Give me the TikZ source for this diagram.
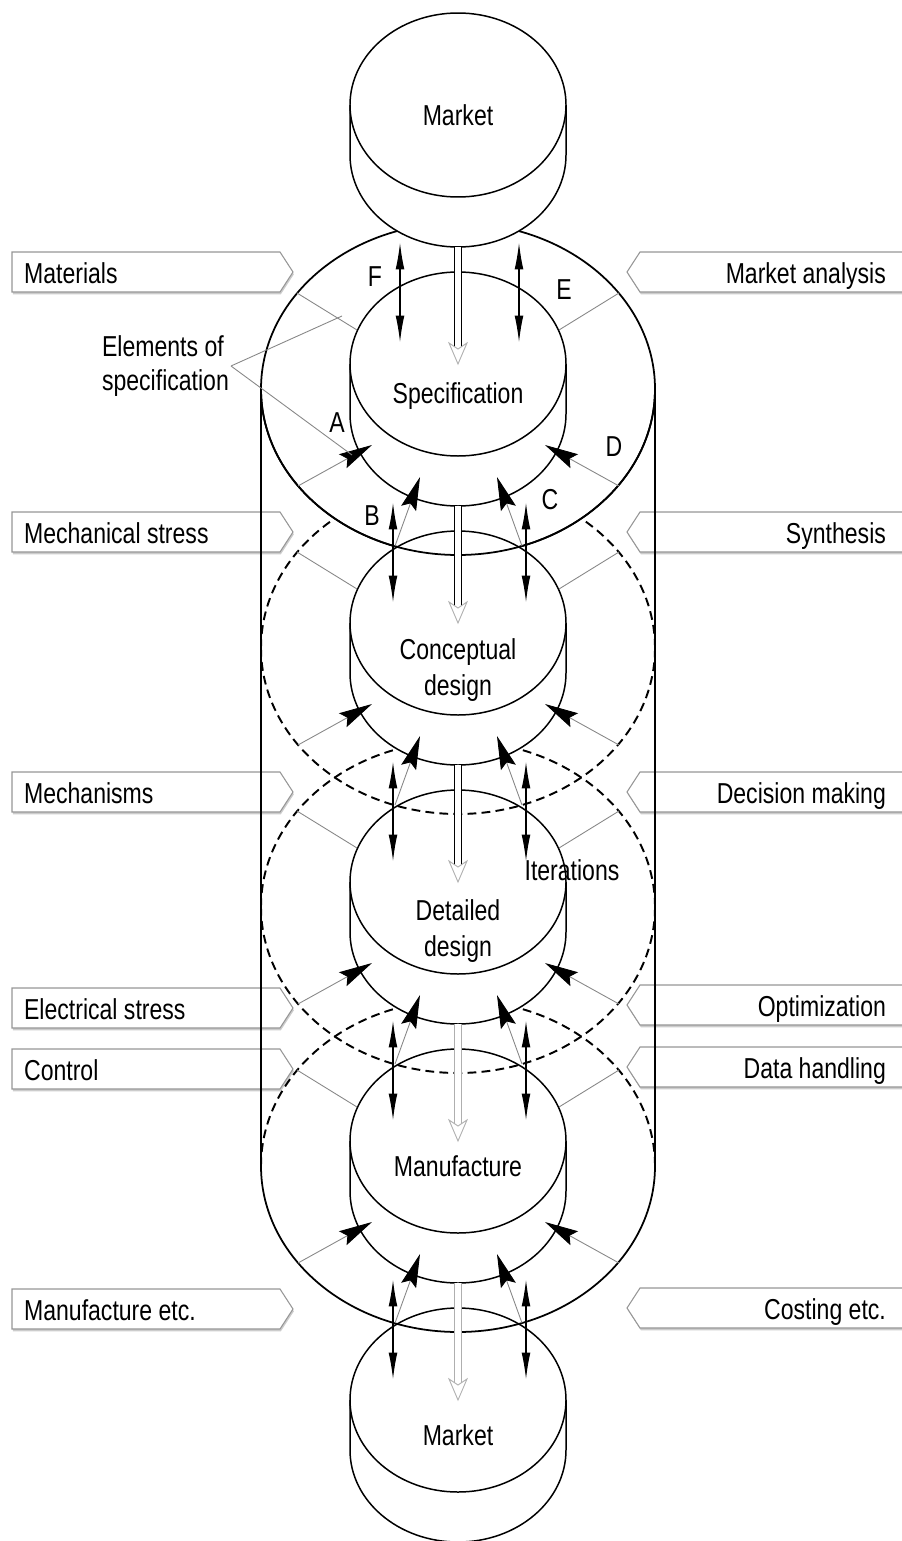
\documentclass[tikz,border=0pt]{standalone}
\usepackage{fontspec}
\setmainfont{Liberation Sans}[FakeStretch=0.8]
\usetikzlibrary{arrows.meta,calc,shadows}
\definecolor{rule}{RGB}{135,135,135}
\definecolor{frame}{RGB}{150,150,150}
\definecolor{pale}{RGB}{175,175,175}

\begin{document}
\begin{tikzpicture}[x=0.02cm,y=-0.02cm,
  every node/.style={font=\fontsize{16.4}{21}\selectfont,inner sep=1pt},
  cyl/.style={line width=0.85pt,fill=white},
  ring/.style={line width=1pt},
  hiddenring/.style={line width=1.1pt,dash pattern=on 5pt off 3pt},
  sector/.style={rule,line width=0.5pt},
  push/.style={rule,line width=0.5pt,-{Stealth[color=black,fill=black,length=19pt,width=9pt,inset=3pt]}},
  iter/.style={line width=0.6pt,{Latex[length=15pt,width=5pt]}-{Latex[length=15pt,width=5pt]}},
  feed/.style={double,double distance=3pt,line width=0.5pt,shorten >=7pt},
  elembox/.style={draw=frame,line width=0.6pt,fill=white,drop shadow={shadow xshift=0.5pt,shadow yshift=-1.3pt,fill=black!20,opacity=1}}]

\useasboundingbox (0,0) rectangle (902,1541);

% elements of the specification
\foreach \y/\t [count=\i] in {272/Materials,532/Mechanical stress,792/Mechanisms,1008/Electrical stress,1069/Control,1309/Manufacture etc.}{
  \draw[elembox] (12,\y-20) -- (280,\y-20) -- (293,\y) -- (280,\y+20) -- (12,\y+20) -- cycle;
  \node[anchor=base west] (lbox\i) at (22,\y+11) {\t};
}
\foreach \y/\t [count=\i] in {272/Market analysis,532/Synthesis,792/Decision making,1005/Optimization,1067/Data handling,1308/Costing etc.}{
  \draw[elembox] (912,\y-20) -- (640,\y-20) -- (627,\y) -- (640,\y+20) -- (912,\y+20);
  \node[anchor=base east] (rbox\i) at (888,\y+11) {\t};
}

% rings behind, then the drum
\foreach \r in {648,907,1166}
  \draw[hiddenring] (261,\r) arc[start angle=180,end angle=360,x radius=197,y radius=166];
\draw[ring,fill=white] (458,389) ellipse [x radius=197,y radius=166];
\draw[line width=1.5pt] (261,389) -- (261,1166) (655,389) -- (655,1166);

% the six stages
\foreach \c [count=\i from 0] in {105,364,623,882,1141,1400}{
  \draw[cyl] (350,\c) -- (350,\c+50) arc[start angle=180,end angle=0,x radius=108,y radius=92]
    -- (566,\c) arc[start angle=0,end angle=-180,x radius=108,y radius=92] -- cycle;
  \draw[cyl] (350,\c) arc[start angle=180,end angle=0,x radius=108,y radius=92];
  \coordinate (ctr\i) at (458,\c);
  \coordinate (base\i) at (458,\c+142);
}

% rings in front
\draw[ring] (261,389) arc[start angle=180,end angle=0,x radius=197,y radius=166];
\foreach \r in {648,907}
  \draw[hiddenring] (261,\r) arc[start angle=180,end angle=0,x radius=197,y radius=166];
\draw[ring] (261,1166) arc[start angle=180,end angle=0,x radius=197,y radius=166];

% sectors and inputs
\foreach \i in {1,...,4}{
  \draw[sector] ($(ctr\i)+(-161,-71)$) -- ($(ctr\i)+(-101,-34)$);
  \draw[sector] ($(ctr\i)+(161,-71)$) -- ($(ctr\i)+(101,-34)$);
  \draw[push] ($(ctr\i)+(-160,122)$) -- ($(ctr\i)+(-86,81)$);
  \draw[push] ($(ctr\i)+(161,122)$) -- ($(ctr\i)+(87,81)$);
  \draw[push] ($(ctr\i)+(-63,182)$) -- ($(ctr\i)+(-38,113)$);
  \draw[push] ($(ctr\i)+(64,182)$) -- ($(ctr\i)+(39,113)$);
}

% main flow
\foreach \j/\col [count=\i] in {0/black,1/black,2/black,3/pale,4/pale}{
  \draw[feed,draw=\col] (base\j) -- (ctr\i);
  \draw[pale,line width=0.5pt,fill=white] (ctr\i) -- ++(-9,-21) -- ++(9,6) -- ++(9,-6) -- cycle;
}

% iterations
\draw[iter] ($(base0)+(-58,-4)$) -- ($(ctr1)+(-58,-22)$);
\draw[iter] ($(base0)+(61,-4)$) -- ($(ctr1)+(61,-22)$);
\foreach \j [count=\i from 2] in {1,...,4}{
  \draw[iter] ($(base\j)+(-65,-3)$) -- ($(ctr\i)+(-65,-21)$);
  \draw[iter] ($(base\j)+(68,-3)$) -- ($(ctr\i)+(68,-21)$);
}

\node (mkt1) at (458,115) {Market};
\node (spec) at (458,396) {Specification};
\node[align=center] (concept) at (458,670) {Conceptual\\design};
\node[align=center] (detail) at (458,931) {Detailed\\design};
\node (manuf) at (458,1166) {Manufacture};
\node (mkt2) at (458,1435) {Market};
\node (itlab) at (572,870) {Iterations};

\node (lF) at (375,277) {F};
\node (lE) at (564,290) {E};
\node (lA) at (337,423) {A};
\node (lD) at (614,447) {D};
\node (lB) at (372,516) {B};
\node (lC) at (550,500) {C};

\coordinate (inF) at (342,316);
\coordinate (inA) at (352,455);
\node[align=left,anchor=east,font=\fontsize{16.4}{19}\selectfont] (elem) at (231,366) {Elements of\\specification};
\draw[sector] (elem.east) -- (inF) (elem.east) -- (inA);
\end{tikzpicture}
\end{document}
